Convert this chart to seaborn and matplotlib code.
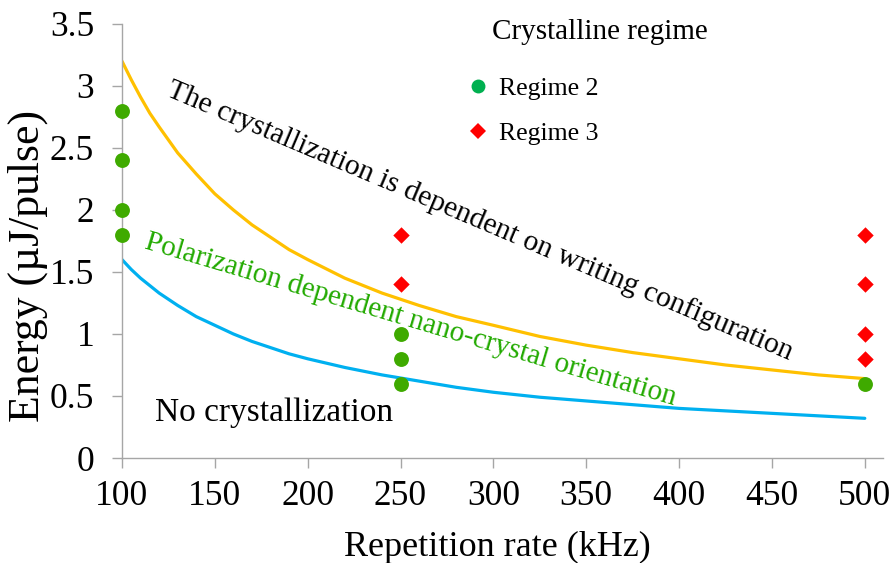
import matplotlib
matplotlib.use("Agg")
import matplotlib.pyplot as plt
import seaborn as sns
import pandas as pd
from matplotlib.lines import Line2D

# Measured points
regime2_rate = [100, 100, 100, 100, 250, 250, 250, 500]
regime2_energy = [2.8, 2.4, 2.0, 1.8, 1.0, 0.8, 0.6, 0.6]
regime3_rate = [250, 250, 500, 500, 500, 500]
regime3_energy = [1.8, 1.4, 1.8, 1.4, 1.0, 0.8]

# Threshold curves
curve_rate = [100, 105, 110, 115, 120, 130, 140, 150, 160, 170, 180, 190, 200,
              220, 240, 260, 280, 300, 325, 350, 375, 400, 425, 450, 475, 500]
upper_energy = [3.2, 3.05, 2.91, 2.78, 2.67, 2.46, 2.29, 2.13, 2.0, 1.88, 1.78, 1.68, 1.6,
                1.45, 1.33, 1.23, 1.14, 1.07, 0.98, 0.91, 0.85, 0.8, 0.75, 0.71, 0.67, 0.64]
lower_energy = [1.6, 1.52, 1.45, 1.39, 1.33, 1.23, 1.14, 1.07, 1.0, 0.94, 0.89, 0.84, 0.8,
                0.73, 0.67, 0.62, 0.57, 0.53, 0.49, 0.46, 0.43, 0.4, 0.38, 0.36, 0.34, 0.32]

x_ticks = [100, 150, 200, 250, 300, 350, 400, 450, 500]
y_ticks = [0, 0.5, 1, 1.5, 2, 2.5, 3, 3.5]
y_tick_labels = ["0", "0.5", "1", "1.5", "2", "2.5", "3", "3.5"]

sns.set_theme(style="white")
plt.rcParams["font.family"] = ["Liberation Serif", "DejaVu Serif"]
plt.rcParams["text.color"] = "black"
plt.rcParams["axes.labelcolor"] = "black"

GREEN = "#3FAA00"
RED = "#FF0000"
YELLOW = "#FFC000"
BLUE = "#00B0F0"
GRAY = "#A6A6A6"

fig = plt.figure(figsize=(8.93, 5.63), dpi=100)
ax = fig.add_axes([0.1366, 0.1865, 0.852, 0.771])

curves = pd.DataFrame({"rate": curve_rate, "upper": upper_energy, "lower": lower_energy})
sns.lineplot(data=curves, x="rate", y="upper", color=YELLOW, linewidth=2.3, ax=ax)
sns.lineplot(data=curves, x="rate", y="lower", color=BLUE, linewidth=2.3, ax=ax)

reg2 = pd.DataFrame({"rate": regime2_rate, "energy": regime2_energy})
reg3 = pd.DataFrame({"rate": regime3_rate, "energy": regime3_energy})
sns.scatterplot(data=reg2, x="rate", y="energy", color=GREEN, marker="o",
                s=115, linewidth=0, ax=ax, clip_on=False, zorder=5)
sns.scatterplot(data=reg3, x="rate", y="energy", color=RED, marker="D",
                s=70, linewidth=0, ax=ax, clip_on=False, zorder=5)

ax.set_xlim(100, 509.7)
ax.set_ylim(0, 3.5)
ax.set_xticks(x_ticks)
ax.set_yticks(y_ticks)
ax.set_yticklabels(y_tick_labels)
ax.tick_params(axis="both", labelsize=25.5, labelcolor="black", color=GRAY,
               length=7, width=1, direction="out")
ax.tick_params(axis="y", pad=13)
ax.tick_params(axis="x", pad=9)
ax.xaxis.set_ticks_position("bottom")
ax.yaxis.set_ticks_position("left")
for side in ("top", "right"):
    ax.spines[side].set_visible(False)
for side in ("left", "bottom"):
    ax.spines[side].set_color(GRAY)
    ax.spines[side].set_linewidth(1)

ax.set_xlabel("Repetition rate (kHz)", fontsize=26, color="black")
ax.set_ylabel("Energy (µJ/pulse)", fontsize=31.5, color="black")
ax.xaxis.set_label_coords(0.494, -0.168)
ax.yaxis.set_label_coords(-0.097, 0.442)

ax.text(182, 0.363, "No crystallization", fontsize=24, ha="center", va="center")
ax.text(292.7, 1.91, "The crystallization is dependent on writing configuration",
        fontsize=21.4, ha="center", va="center", rotation=-23)
ax.text(255.6, 1.11, "Polarization dependent nano-crystal orientation",
        fontsize=21, ha="center", va="center", rotation=-16.5, color="#22AA00")

ax.text(0.486, 0.982, "Crystalline regime", transform=ax.transAxes,
        fontsize=21, ha="left", va="center")
handles = [
    Line2D([], [], linestyle="none", marker="o", markersize=10,
           markerfacecolor="#00B050", markeredgewidth=0, label="Regime 2"),
    Line2D([], [], linestyle="none", marker="D", markersize=8,
           markerfacecolor=RED, markeredgewidth=0, label="Regime 3"),
]
leg = ax.legend(handles=handles, frameon=False, fontsize=18.5, loc="upper left",
                bbox_to_anchor=(0.451, 0.878), borderpad=0, borderaxespad=0,
                handlelength=1.0, handletextpad=0.3, labelspacing=0.88)
for t in leg.get_texts():
    t.set_color("black")

fig.savefig("out.png", dpi=100)
